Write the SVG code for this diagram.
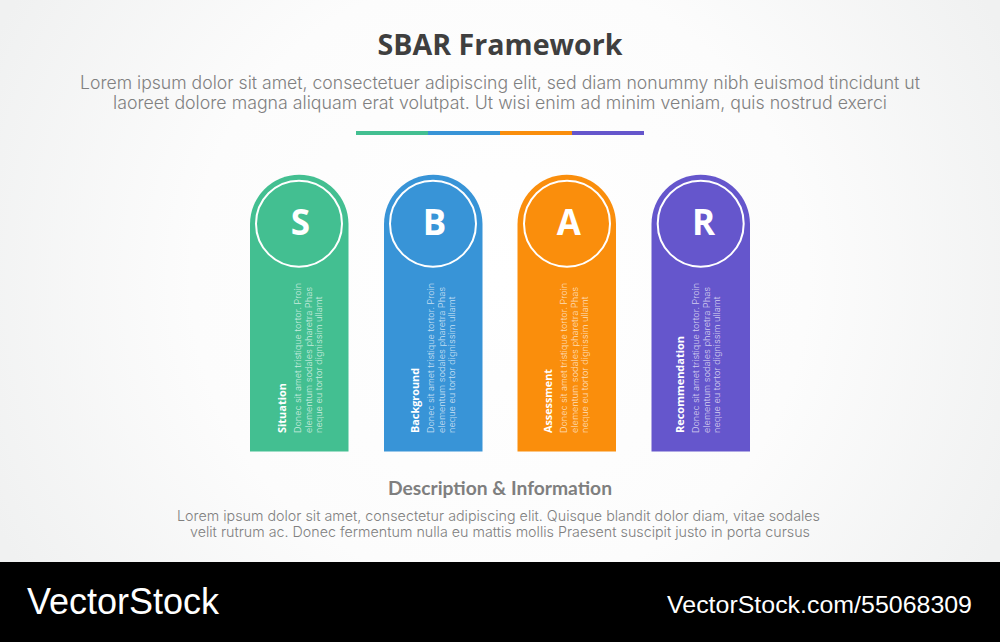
<svg xmlns="http://www.w3.org/2000/svg" width="1000" height="642" viewBox="0 0 1000 642">
<style>
.lead{font-family:"Inter","Noto Sans","Liberation Sans",sans-serif;font-weight:300;text-anchor:middle;fill:#808080}
.cap{font-family:"Open Sans","Liberation Sans",sans-serif;font-weight:700;fill:#fff;font-size:11px}
.fine{font-family:"Inter","Noto Sans","Liberation Sans",sans-serif;font-weight:300;fill:#fff;fill-opacity:.72;font-size:9px}
.letter{font-family:"Open Sans","Liberation Sans",sans-serif;font-weight:700;fill:#fff;font-size:35px;text-anchor:middle}
.ring{fill:none;stroke:#fff;stroke-width:2}
.brand{font-family:"Liberation Sans",Arial,sans-serif;fill:#fff}
</style>
<defs>
<radialGradient id="bg" cx="500" cy="280" r="560" gradientUnits="userSpaceOnUse">
<stop offset="0" stop-color="#ffffff"/><stop offset=".55" stop-color="#fcfcfc"/><stop offset="1" stop-color="#f0f1f1"/>
</radialGradient>
<path id="pill" d="M0 451.5V224a49.25 49.25 0 0 1 98.5 0V451.5Z"/>
</defs>
<rect width="1000" height="562" fill="url(#bg)"/>
<g id="header">
<text x="500" y="54.500" text-anchor="middle" font-family="'Open Sans','Liberation Sans',sans-serif" font-weight="700" font-size="29" fill="#3f3f3f" textLength="245" lengthAdjust="spacingAndGlyphs">SBAR Framework</text>
<text class="lead" x="500" y="89" font-size="18" textLength="840" lengthAdjust="spacingAndGlyphs">Lorem ipsum dolor sit amet, consectetuer adipiscing elit, sed diam nonummy nibh euismod tincidunt ut</text>
<text class="lead" x="500" y="109" font-size="18" textLength="774" lengthAdjust="spacingAndGlyphs">laoreet dolore magna aliquam erat volutpat. Ut wisi enim ad minim veniam, quis nostrud exerci</text>
<rect x="356" y="131" width="72" height="4" fill="#43bf91"/>
<rect x="428" y="131" width="72" height="4" fill="#3894d7"/>
<rect x="500" y="131" width="72" height="4" fill="#fa8e0c"/>
<rect x="572" y="131" width="72" height="4" fill="#6556cc"/>
</g>
<g id="node-s">
<use href="#pill" x="250" fill="#43bf91"/>
<circle class="ring" cx="299" cy="223.700" r="43"/>
<text class="letter" x="300.500" y="234.500">S</text>
<g transform="translate(0 433)">
<text class="cap" transform="translate(285.500 0) rotate(-90)" textLength="50" lengthAdjust="spacingAndGlyphs">Situation</text>
<text class="fine" transform="translate(301 0) rotate(-90)" textLength="150" lengthAdjust="spacingAndGlyphs">Donec sit amet tristique tortor. Proin</text>
<text class="fine" transform="translate(311.500 0) rotate(-90)" textLength="146" lengthAdjust="spacingAndGlyphs">elementum sodales pharetra Phas</text>
<text class="fine" transform="translate(322 0) rotate(-90)" textLength="136.500" lengthAdjust="spacingAndGlyphs">neque eu tortor dignissim ullamt</text>
</g>
</g>
<g id="node-b">
<use href="#pill" x="384" fill="#3894d7"/>
<circle class="ring" cx="433" cy="223.700" r="43"/>
<text class="letter" x="434.500" y="234.500">B</text>
<g transform="translate(133 433)">
<text class="cap" transform="translate(285.500 0) rotate(-90)" textLength="65" lengthAdjust="spacingAndGlyphs">Background</text>
<text class="fine" transform="translate(301 0) rotate(-90)" textLength="150" lengthAdjust="spacingAndGlyphs">Donec sit amet tristique tortor. Proin</text>
<text class="fine" transform="translate(311.500 0) rotate(-90)" textLength="146" lengthAdjust="spacingAndGlyphs">elementum sodales pharetra Phas</text>
<text class="fine" transform="translate(322 0) rotate(-90)" textLength="136.500" lengthAdjust="spacingAndGlyphs">neque eu tortor dignissim ullamt</text>
</g>
</g>
<g id="node-a">
<use href="#pill" x="517.500" fill="#fa8e0c"/>
<circle class="ring" cx="567" cy="223.700" r="43"/>
<text class="letter" x="568.800" y="234.500">A</text>
<g transform="translate(266 433)">
<text class="cap" transform="translate(285.500 0) rotate(-90)" textLength="64" lengthAdjust="spacingAndGlyphs">Assessment</text>
<text class="fine" transform="translate(301 0) rotate(-90)" textLength="150" lengthAdjust="spacingAndGlyphs">Donec sit amet tristique tortor. Proin</text>
<text class="fine" transform="translate(311.500 0) rotate(-90)" textLength="146" lengthAdjust="spacingAndGlyphs">elementum sodales pharetra Phas</text>
<text class="fine" transform="translate(322 0) rotate(-90)" textLength="136.500" lengthAdjust="spacingAndGlyphs">neque eu tortor dignissim ullamt</text>
</g>
</g>
<g id="node-r">
<use href="#pill" x="651.500" fill="#6556cc"/>
<circle class="ring" cx="700.700" cy="223.700" r="43"/>
<text class="letter" x="703.500" y="234.500">R</text>
<g transform="translate(398 433)">
<text class="cap" transform="translate(285.500 0) rotate(-90)" textLength="97" lengthAdjust="spacingAndGlyphs">Recommendation</text>
<text class="fine" transform="translate(301 0) rotate(-90)" textLength="150" lengthAdjust="spacingAndGlyphs">Donec sit amet tristique tortor. Proin</text>
<text class="fine" transform="translate(311.500 0) rotate(-90)" textLength="146" lengthAdjust="spacingAndGlyphs">elementum sodales pharetra Phas</text>
<text class="fine" transform="translate(322 0) rotate(-90)" textLength="136.500" lengthAdjust="spacingAndGlyphs">neque eu tortor dignissim ullamt</text>
</g>
</g>
<g id="connectors"/>
<g id="footer">
<text x="500" y="494.500" text-anchor="middle" font-family="Lato,'Liberation Sans',sans-serif" font-weight="700" font-size="19" fill="#7f7f7f" textLength="224" lengthAdjust="spacingAndGlyphs">Description &amp; Information</text>
<text class="lead" x="498.500" y="521" font-size="14.500" textLength="643" lengthAdjust="spacingAndGlyphs">Lorem ipsum dolor sit amet, consectetur adipiscing elit. Quisque blandit dolor diam, vitae sodales</text>
<text class="lead" x="500" y="537" font-size="14.500" textLength="620" lengthAdjust="spacingAndGlyphs">velit rutrum ac. Donec fermentum nulla eu mattis mollis Praesent suscipit justo in porta cursus</text>
</g>
<g id="watermark">
<rect y="562" width="1000" height="80" fill="#000"/>
<text class="brand" x="27" y="614" font-size="36" textLength="192" lengthAdjust="spacingAndGlyphs">VectorStock</text>
<text class="brand" x="667" y="613" font-size="24.500" textLength="305" lengthAdjust="spacingAndGlyphs">VectorStock.com/55068309</text>
</g>
</svg>
